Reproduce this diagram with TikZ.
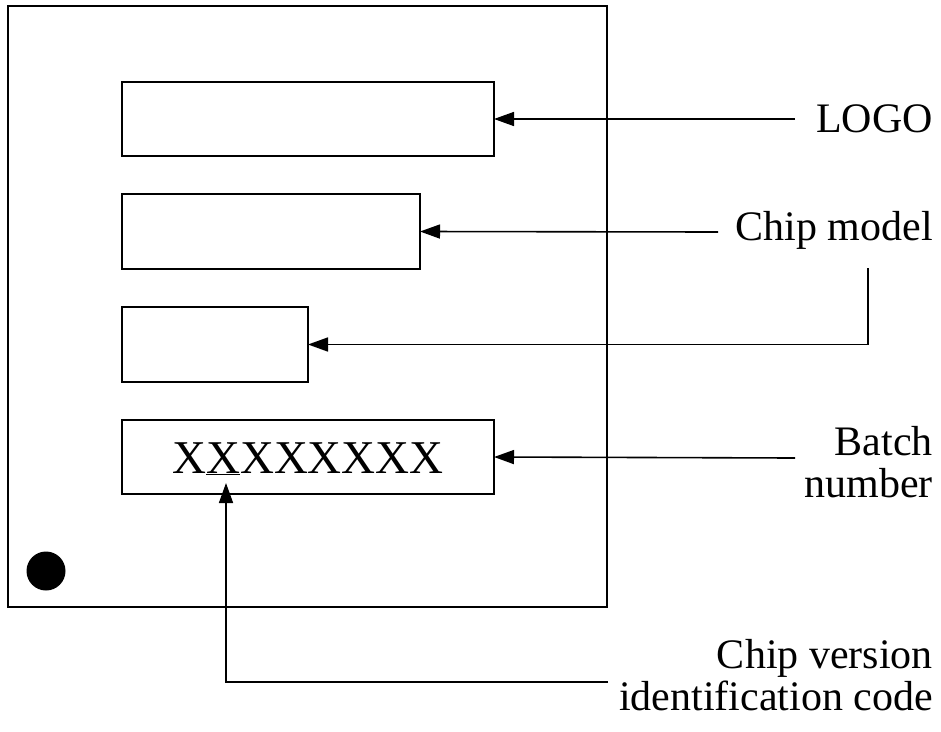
\documentclass[tikz,border=0pt]{standalone}
\usepackage{fontspec}
\setmainfont{Liberation Serif}
\usetikzlibrary{arrows.meta}
\tikzset{
  chipbox/.style={draw, line width=1.6pt, inner sep=0pt, outer sep=0pt},
  tag/.style={anchor=base east, align=right, inner sep=0pt, font=\fontsize{42}{42}\selectfont},
  pointer/.style={line width=1.6pt, -{Triangle[length=20pt,width=14pt]}},
}
\begin{document}
\begin{tikzpicture}[x=1pt,y=-1pt]
\useasboundingbox (0,0) rectangle (941,731);
\draw[line width=1.6pt] (8,6) rectangle (607,607);
\fill (46,571) circle (19.5);
% marking fields
\node[chipbox, minimum width=372pt, minimum height=74pt] (logobox) at (308,119) {};
\node[chipbox, minimum width=298pt, minimum height=75pt] (modelbox) at (271,231.5) {};
\node[chipbox, minimum width=186pt, minimum height=75pt] (thirdbox) at (215,344.5) {};
\node[chipbox, minimum width=372pt, minimum height=74pt] (batchbox) at (308,457) {};
\node[anchor=base, inner sep=0pt, font=\fontsize{47}{47}\selectfont] (batchcode) at (308,473) {X\underline{X}XXXXXX};
% labels (multi-line ones sit on their last baseline)
\node[tag] (logo) at (933,132) {LOGO};
\node[tag] (model) at (933,240) {Chip model};
\node[tag] (batch) at (933,497) {Batch\\number};
\node[tag] (version) at (933,710) {Chip version\\identification code};
\coordinate (logoend) at (795,119);
\coordinate (modelend) at (718,232);
\coordinate (bend) at (868,268);
\coordinate (batchend) at (795,458);
\coordinate (versionend) at (608,682);
\coordinate (codetip) at (226,483);
\draw[pointer] (logoend) -- (logobox.east);
\draw[pointer] (modelend) -- (modelbox.east);
\draw[pointer] (bend) |- (thirdbox.east);
\draw[pointer] (batchend) -- (batchbox.east);
\draw[pointer] (versionend) -| (codetip);
\end{tikzpicture}
\end{document}
